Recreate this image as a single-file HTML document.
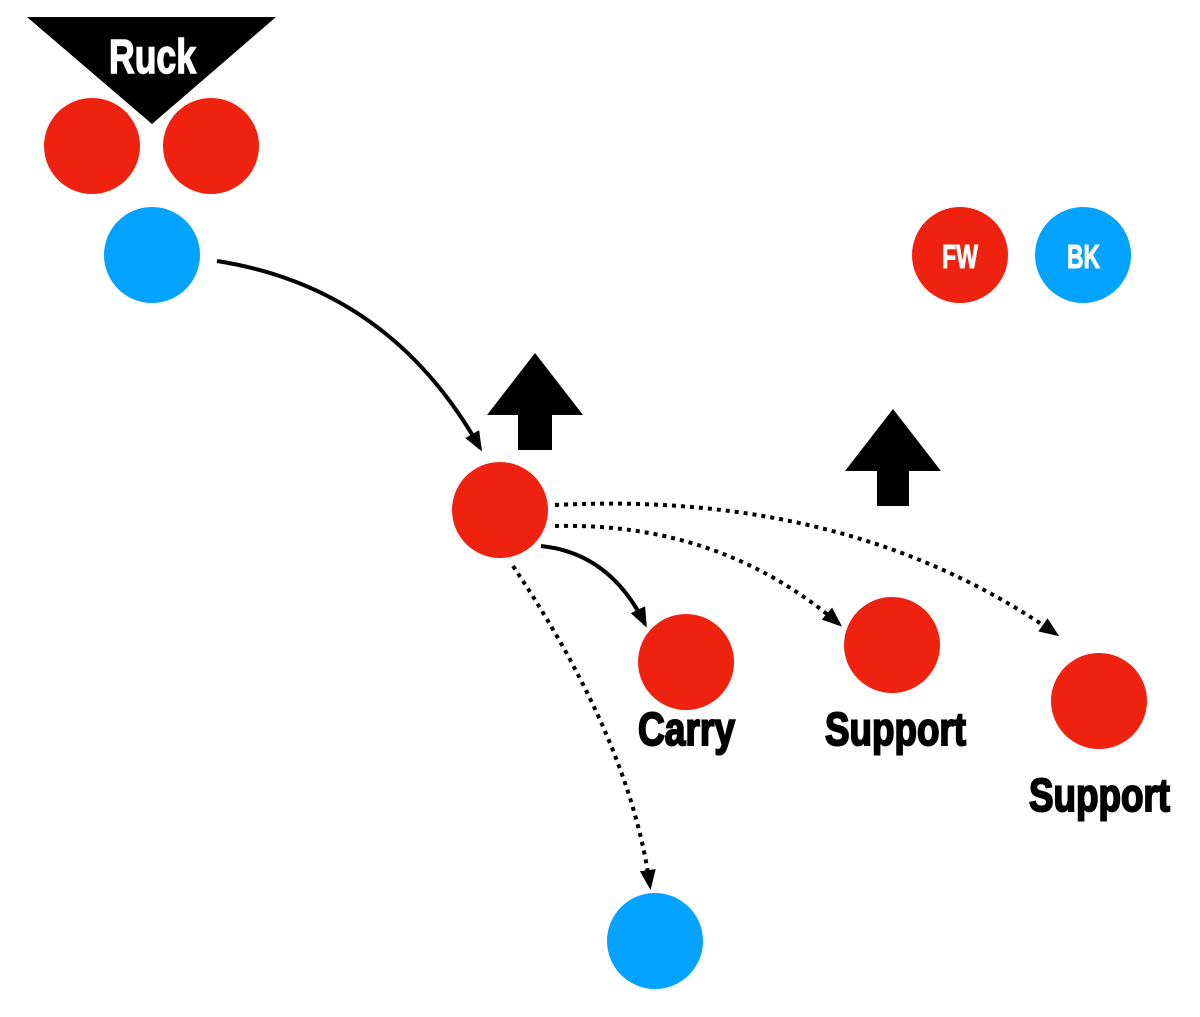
<!DOCTYPE html>
<html><head><style>html,body{margin:0;padding:0;background:#fff;}svg{display:block}</style></head>
<body>
<svg width="1200" height="1017" viewBox="0 0 1200 1017" xmlns="http://www.w3.org/2000/svg">
<defs>
<marker id="ah2" markerWidth="20" markerHeight="20" refX="16" refY="10" orient="auto" markerUnits="userSpaceOnUse" viewBox="0 0 20 20">
<path d="M0,2 L20,10 L0,18 z" fill="#000"/>
</marker>
</defs>
<g font-family="'Liberation Sans Narrow','Liberation Sans',sans-serif" font-weight="bold">
<polygon points="27,17 276,17 152,124" fill="#000"/>
<text x="109" y="73" font-size="48" fill="#fff" stroke="#fff" stroke-width="1.5" textLength="87" lengthAdjust="spacingAndGlyphs">Ruck</text>

<circle cx="92" cy="146" r="48" fill="#ee220f"/>
<circle cx="211" cy="146" r="48" fill="#ee220f"/>
<circle cx="152" cy="255" r="48" fill="#02a2fe"/>

<circle cx="960" cy="255" r="48" fill="#ee220f"/>
<text x="942" y="268" font-size="33" fill="#fff" stroke="#fff" stroke-width="1" textLength="36" lengthAdjust="spacingAndGlyphs">FW</text>
<circle cx="1083" cy="255" r="48" fill="#02a2fe"/>
<text x="1067" y="268" font-size="33" fill="#fff" stroke="#fff" stroke-width="1" textLength="33" lengthAdjust="spacingAndGlyphs">BK</text>

<polygon points="535,353 583,415 552,415 552,450 518,450 518,415 487,415" fill="#000"/>
<polygon points="893,409 941,471 909,471 909,506 877,506 877,471 845,471" fill="#000"/>

<circle cx="500" cy="510" r="48" fill="#ee220f"/>
<circle cx="686" cy="662" r="48" fill="#ee220f"/>
<circle cx="892" cy="645" r="48" fill="#ee220f"/>
<circle cx="1099" cy="701" r="48" fill="#ee220f"/>
<circle cx="655" cy="941" r="48" fill="#02a2fe"/>

<path d="M217,261 Q390,288 480,448" fill="none" stroke="#000" stroke-width="4" marker-end="url(#ah2)"/>
<path d="M541,546 Q610,553 645,624" fill="none" stroke="#000" stroke-width="4" marker-end="url(#ah2)"/>
<path d="M555,526 Q720,522 839,624" fill="none" stroke="#000" stroke-width="4" stroke-dasharray="4,5" marker-end="url(#ah2)"/>
<path d="M555,505 Q850,490 1056,634" fill="none" stroke="#000" stroke-width="4" stroke-dasharray="4,5" marker-end="url(#ah2)"/>
<path d="M513,566 Q630,740 650,886" fill="none" stroke="#000" stroke-width="4" stroke-dasharray="4,5" marker-end="url(#ah2)"/>

<text x="638" y="745" font-size="46" fill="#000" stroke="#000" stroke-width="2" textLength="97" lengthAdjust="spacingAndGlyphs">Carry</text>
<text x="825" y="745" font-size="46" fill="#000" stroke="#000" stroke-width="2" textLength="141" lengthAdjust="spacingAndGlyphs">Support</text>
<text x="1029" y="811" font-size="46" fill="#000" stroke="#000" stroke-width="2" textLength="141" lengthAdjust="spacingAndGlyphs">Support</text>
</g>
</svg>
</body></html>
